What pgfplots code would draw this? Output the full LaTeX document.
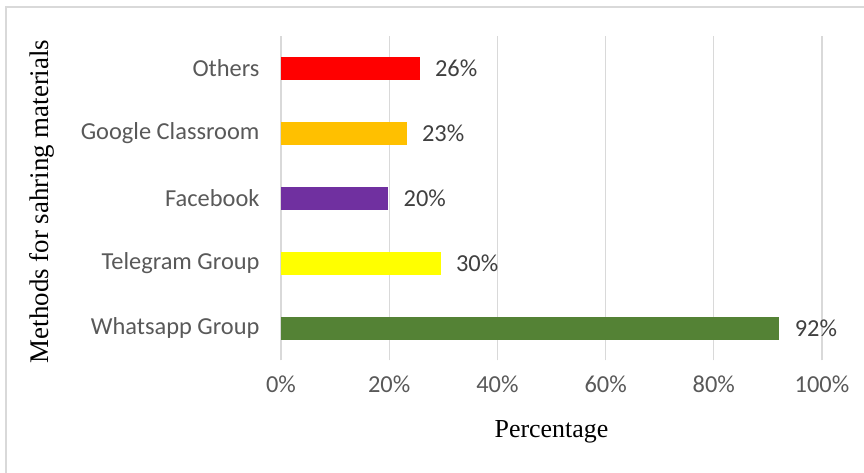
\documentclass[border=0pt]{standalone}
\usepackage{pgfplots}
\pgfplotsset{compat=1.18}
\usepackage{fontspec}
\setmainfont{Carlito}
\newfontfamily\timesf{Liberation Serif}
\definecolor{gridc}{HTML}{D9D9D9}
\definecolor{tickc}{HTML}{595959}
\definecolor{labc}{HTML}{404040}
\definecolor{cOthers}{HTML}{FF0000}
\definecolor{cGoogle}{HTML}{FFC000}
\definecolor{cFace}{HTML}{7030A0}
\definecolor{cTele}{HTML}{FFFF00}
\definecolor{cWhats}{HTML}{548235}

\begin{document}
\begin{tikzpicture}[x=1bp,y=1bp]
\useasboundingbox (0,0) rectangle (864,473);
\draw[gridc, line width=1.2bp] (6,466) rectangle (880,-20);
\begin{axis}[
    at={(281bp,112.5bp)}, anchor=south west,
    scale only axis, width=541bp, height=324.7bp,
    xbar, bar width=23bp, bar shift=0pt,
    xmin=0, xmax=100, ymin=0.5, ymax=5.5,
    xtick={0,20,40,60,80,100},
    xticklabels={0\%,20\%,40\%,60\%,80\%,100\%},
    ytick={1,2,3,4,5},
    yticklabels={Whatsapp Group,Telegram Group,Facebook,Google Classroom,Others},
    axis line style={draw=none},
    major tick length=0pt,
    xmajorgrids, ymajorgrids=false,
    grid style={gridc, line width=1.2bp},
    ticklabel style={font=\fontsize{24.5}{27}\selectfont, text=tickc},
    xticklabel style={yshift=-12bp},
    yticklabel style={xshift=-18bp},
    xlabel={\timesf Percentage},
    ylabel={\timesf Methods for sahring materials},
    xlabel style={font=\fontsize{26}{28}\selectfont, at={(axis description cs:0.5,-0.22)}, anchor=center},
    ylabel style={font=\fontsize{27}{29}\selectfont, at={(axis description cs:-0.442,0.49)}, anchor=center},
    point meta=explicit symbolic,
    nodes near coords,
    every node near coord/.append style={font=\fontsize{24.5}{27}\selectfont, text=labc, anchor=west, xshift=12bp},
]
\addplot[draw=none, fill=cWhats] coordinates {(92.1,1) [92\%]};
\addplot[draw=none, fill=cTele] coordinates {(29.5,2) [30\%]};
\addplot[draw=none, fill=cFace] coordinates {(19.8,3) [20\%]};
\addplot[draw=none, fill=cGoogle] coordinates {(23.2,4) [23\%]};
\addplot[draw=none, fill=cOthers] coordinates {(25.6,5) [26\%]};
\end{axis}
\end{tikzpicture}
\end{document}
